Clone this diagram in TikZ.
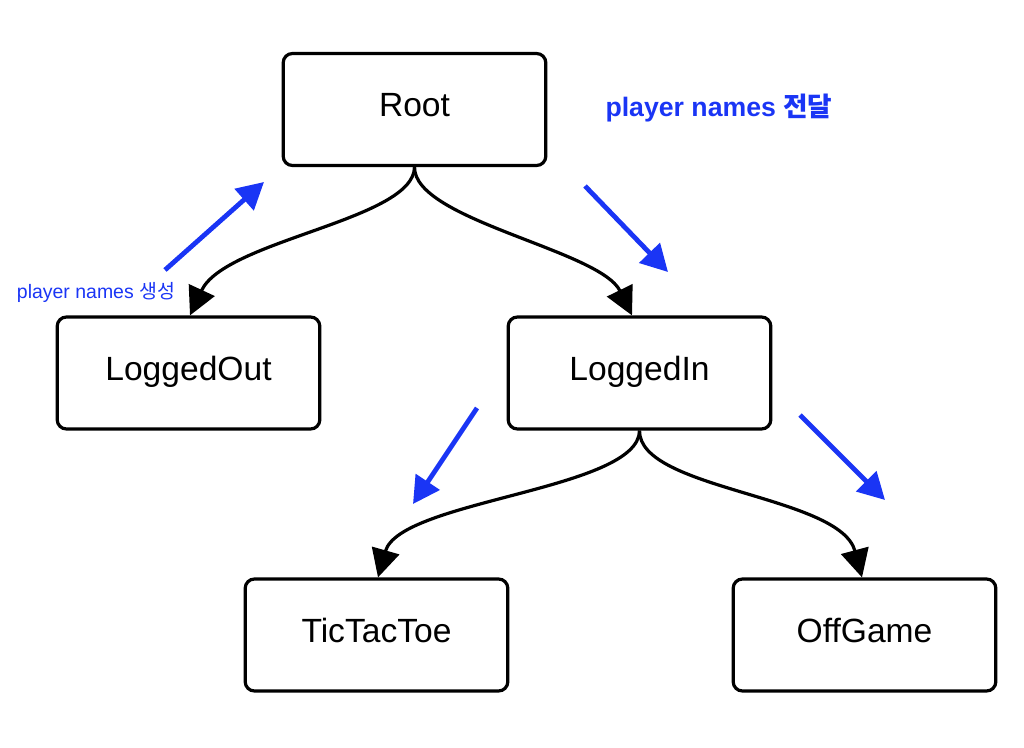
\documentclass[tikz,border=0pt]{standalone}
\usepackage{fontspec}
\setmainfont{Liberation Sans}
\newfontfamily\kr{Noto Sans CJK KR}
\usetikzlibrary{arrows.meta}
\definecolor{myblue}{HTML}{1A35F5}
\tikzset{
  state/.style={draw=black, line width=2.4pt, rounded corners=7pt, minimum width=197pt, minimum height=84pt, font=\fontsize{25.2}{29}\selectfont, text height=17pt, text depth=5.9pt, fill=white},
  edge/.style={line width=2.4pt, -{Triangle[length=21pt,width=21pt]}},
  flow/.style={draw=myblue, line width=3.6pt, -{Triangle[length=20pt,width=21pt]}},
}
\begin{document}
\begin{tikzpicture}[x=0.75pt,y=-0.75pt]
\useasboundingbox (0,0) rectangle (1024,748);
\node[state] (root) at (414.5,109.5) {Root};
\node[state] (out) at (188.5,373) {LoggedOut};
\node[state] (in) at (639.5,373) {LoggedIn};
\node[state] (ttt) at (376.5,635) {TicTacToe};
\node[state] (off) at (864.5,635) {OffGame};

\draw[edge] (root.south) .. controls (414,220) and (225,240) .. (out.north -| 190,0);
\draw[edge] (root.south) .. controls (414,220) and (600,250) .. (in.north -| 632,0);
\draw[edge] (in.south) .. controls (639,490) and (400,500) .. (ttt.north -| 378,0);
\draw[edge] (in.south) .. controls (639,490) and (840,495) .. (off.north -| 862,0);

\coordinate (a1) at (165,270); \coordinate (b1) at (264,182);
\coordinate (a2) at (585,186); \coordinate (b2) at (668,272);
\coordinate (a3) at (477,408); \coordinate (b3) at (413,504);
\coordinate (a4) at (800,415); \coordinate (b4) at (885,500);
\draw[flow] (a1) -- (b1);
\draw[flow] (a2) -- (b2);
\draw[flow] (a3) -- (b3);
\draw[flow] (a4) -- (b4);

\node[text=myblue, font=\bfseries\fontsize{20}{23}\selectfont] (t1) at (719,108) {player names {\kr\bfseries 전달}};
\node[text=myblue, font=\fontsize{14.6}{17}\selectfont] (t2) at (96,292) {player names {\kr 생성}};
\end{tikzpicture}
\end{document}
